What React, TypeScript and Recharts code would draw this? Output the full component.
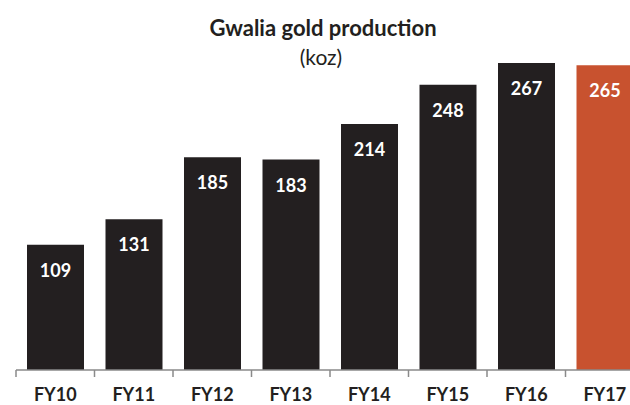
import { BarChart, Bar, XAxis, YAxis, Cell, LabelList } from "recharts";

const categories = ["FY10", "FY11", "FY12", "FY13", "FY14", "FY15", "FY16", "FY17"];
const production = [109, 131, 185, 183, 214, 248, 267, 265];
const highlightCategory = "FY17";

const DARK = "#231f20";
const ORANGE = "#c8522f";
const FONT = "Lato, 'Open Sans', sans-serif";

const data = categories.map((fy, i) => ({ fy, koz: production[i] }));

// category ticks sit on the band edges, not the centres
const CategoryTick = (props: any) => {
  const { x, y, payload } = props;
  const half = payload?.offset ?? 39;
  return (
    <g>
      <line x1={x - half} x2={x - half} y1={y} y2={y + 7} stroke="#8a8a8a" strokeWidth={1.5} />
      <text x={x} y={y + 31} textAnchor="middle" fill={DARK} fontFamily={FONT} fontWeight={700} fontSize={18}>
        {payload.value}
      </text>
    </g>
  );
};

const ValueLabel = (props: any) => {
  const { x, y, width, value } = props;
  return (
    <text x={x + width / 2} y={y + 32} textAnchor="middle" fill="#fff" fontFamily={FONT} fontWeight={700} fontSize={18}>
      {value}
    </text>
  );
};

export default function App() {
  return (
    <div style={{ position: "fixed", left: 0, top: 0, width: 630, height: 405, overflow: "hidden", background: "#fff" }}>
      <BarChart
        width={660}
        height={405}
        data={data}
        margin={{ top: 25, right: 16, left: 16, bottom: 0 }}
        barCategoryGap={11}
      >
        <XAxis
          dataKey="fy"
          interval={0}
          height={35}
          tickLine={false}
          tickSize={0}
          tickMargin={0}
          axisLine={{ stroke: "#8a8a8a", strokeWidth: 1.5 }}
          tick={<CategoryTick />}
        />
        <YAxis hide domain={[0, 300]} />
        <Bar dataKey="koz" isAnimationActive={false}>
          {data.map((d) => (
            <Cell key={d.fy} fill={d.fy === highlightCategory ? ORANGE : DARK} />
          ))}
          <LabelList dataKey="koz" content={<ValueLabel />} />
        </Bar>
      </BarChart>
      <svg width={630} height={80} style={{ position: "absolute", left: 0, top: 0 }}>
        <text x={323} y={36} textAnchor="middle" fill={DARK} fontFamily={FONT} fontWeight={700} fontSize={22}>
          Gwalia gold production
        </text>
        <text x={321} y={65} textAnchor="middle" fill={DARK} fontFamily={FONT} fontSize={21}>
          (koz)
        </text>
      </svg>
    </div>
  );
}
